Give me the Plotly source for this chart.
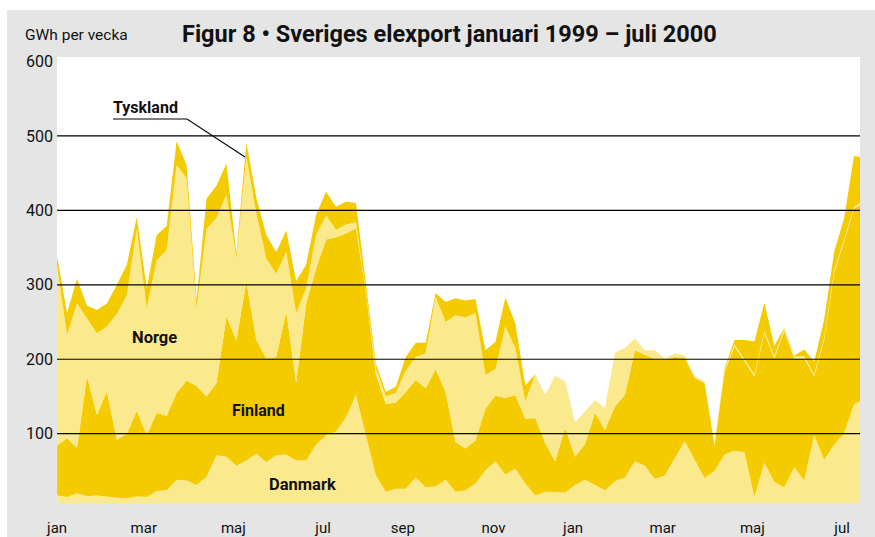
import plotly.graph_objects as go

# ---- data (GWh per week), weeks from January 1999 to July 2000 ----
week = list(range(82))
danmark = [17, 15, 20, 16, 17, 15, 14, 13, 16, 15, 23, 24, 38, 37, 31, 42, 71, 69, 57, 64,
           73, 62, 71, 72, 64, 64, 85, 98, 103, 122, 152, 98, 44, 22, 26, 26, 41, 28, 29, 38,
           22, 24, 33, 51, 63, 45, 53, 33, 17, 22, 21, 21, 31, 38, 31, 24, 36, 41, 63, 57,
           39, 44, 67, 90, 65, 40, 50, 72, 77, 75, 15, 61, 35, 28, 55, 37, 98, 65, 85, 101,
           140, 146]
finland = [67, 79, 61, 161, 108, 142, 78, 87, 115, 83, 105, 100, 117, 134, 133, 108, 97, 188, 169, 240,
           153, 139, 132, 192, 104, 211, 237, 263, 261, 247, 224, 192, 136, 118, 116, 130, 131, 133, 158, 118,
           67, 56, 58, 83, 88, 103, 99, 87, 104, 65, 42, 87, 38, 48, 97, 81, 101, 111, 149, 149,
           161, 155, 136, 112, 110, 128, 34, 111, 140, 122, 162, 174, 166, 210, 146, 164, 79, 161, 231, 257,
           262, 264]
norge = [241, 139, 194, 78, 110, 87, 169, 186, 244, 170, 205, 223, 306, 272, 104, 225, 222, 164, 110, 168,
         170, 134, 112, 80, 94, 20, 45, 32, 10, 12, 8, 2, 8, 10, 13, 29, 31, 47, 97, 94,
         170, 176, 171, 45, 36, 96, 63, 23, 59, 65, 115, 62, 46, 44, 17, 30, 72, 63, 16, 6,
         12, 2, 5, 3, 2, 2, 2, 3, 3, 3, 3, 3, 3, 3, 3, 3, 3, 3, 3, 3,
         3, 3]
tyskland = [13, 29, 33, 17, 31, 31, 39, 41, 16, 27, 34, 32, 32, 18, 12, 41, 43, 42, 6, 19,
            21, 32, 29, 29, 43, 32, 27, 32, 31, 31, 26, 8, 6, 6, 8, 18, 19, 14, 5, 27,
            23, 23, 19, 33, 36, 39, 33, 22, 0, 0, 0, 0, 0, 0, 0, 0, 0, 0, 0, 0,
            0, 0, 0, 0, 0, 0, 1, 2, 6, 26, 44, 38, 14, 1, 1, 9, 17, 24, 25, 28,
            68, 58]

month_pos = [0, 8.7, 17.7, 26.7, 34.7, 43.8, 51.8, 60.8, 69.8, 78.8]
month_labels = ["jan", "mar", "maj", "jul", "sep", "nov", "jan", "mar", "maj", "jul"]
y_ticks = [100, 200, 300, 400, 500, 600]
grid_vals = [100, 200, 300, 400, 500]

LIGHT = "#fbe98e"
DARK = "#f4ca00"
GREY = "#e5e5e5"
INK = "#111111"
FONT = "Roboto, 'Open Sans', sans-serif"

W, H = 875, 537
PL, PR, PT, PB = 57, 860, 57, 503


def px(x):
    return (x - PL) / (PR - PL)


def py(y):
    return (PB - y) / (PB - PT)


fig = go.Figure()
for name, vals, col in [("Danmark", danmark, LIGHT), ("Finland", finland, DARK),
                        ("Norge", norge, LIGHT), ("Tyskland", tyskland, DARK)]:
    fig.add_trace(go.Scatter(x=week, y=vals, name=name, stackgroup="one", mode="lines",
                             line=dict(width=0, color=col), fillcolor=col,
                             hoverinfo="skip", showlegend=False))

shapes = [
    dict(type="rect", xref="paper", yref="paper", x0=px(7), x1=px(875), y0=py(537), y1=py(10),
         fillcolor=GREY, line=dict(width=0), layer="below"),
    dict(type="rect", xref="paper", yref="paper", x0=0, x1=1, y0=0, y1=1,
         fillcolor="white", line=dict(width=0), layer="below"),
]
for g in grid_vals:
    shapes.append(dict(type="line", xref="paper", yref="y", x0=0, x1=1, y0=g, y1=g,
                       line=dict(color="#000000", width=1.2), layer="above"))
shapes.append(dict(type="path", xref="paper", yref="paper",
                   path=f"M {px(113)},{py(119)} L {px(187)},{py(119)} L {px(245)},{py(157)}",
                   line=dict(color="#000000", width=1.1), layer="above"))

annotations = [
    dict(text="<b>Figur 8 • Sveriges elexport januari 1999 – juli 2000</b>", x=px(449), y=py(34),
         xref="paper", yref="paper", showarrow=False, xanchor="center", yanchor="middle",
         font=dict(family=FONT, size=23.5, color=INK)),
    dict(text="GWh per vecka", x=px(23), y=py(35), xref="paper", yref="paper", showarrow=False,
         xanchor="left", yanchor="middle", font=dict(family=FONT, size=15.5, color=INK)),
    dict(text="<b>Tyskland</b>", x=px(145), y=py(107), xref="paper", yref="paper", showarrow=False,
         xanchor="center", yanchor="middle", font=dict(family=FONT, size=16, color=INK)),
    dict(text="<b>Norge</b>", x=px(154), y=py(338), xref="paper", yref="paper", showarrow=False,
         xanchor="center", yanchor="middle", font=dict(family=FONT, size=16.5, color=INK)),
    dict(text="<b>Finland</b>", x=px(258), y=py(410), xref="paper", yref="paper", showarrow=False,
         xanchor="center", yanchor="middle", font=dict(family=FONT, size=16, color=INK)),
    dict(text="<b>Danmark</b>", x=px(302), y=py(484), xref="paper", yref="paper", showarrow=False,
         xanchor="center", yanchor="middle", font=dict(family=FONT, size=16.5, color=INK)),
]

fig.update_layout(
    width=W, height=H,
    margin=dict(l=PL, r=W - PR, t=PT, b=H - PB, pad=0),
    paper_bgcolor="white", plot_bgcolor="white",
    shapes=shapes, annotations=annotations,
    xaxis=dict(range=[-0.01, 80.6], tickmode="array", tickvals=month_pos, ticktext=month_labels,
               showgrid=False, zeroline=False, showline=False, ticks="", automargin=False,
               tickfont=dict(family=FONT, size=15, color=INK), ticklabelstandoff=14, fixedrange=True),
    yaxis=dict(range=[6.9, 606], tickmode="array", tickvals=y_ticks, automargin=False,
               showgrid=False, zeroline=False, showline=False, ticks="",
               tickfont=dict(family=FONT, size=16, color=INK), ticklabelstandoff=3, fixedrange=True),
)

# remove the default 8px page margin so the figure fills the window exactly
fig.write_html("out.html", config={"displayModeBar": False, "staticPlot": True},
               post_script="document.body.style.margin='0';document.body.style.overflow='hidden';")
